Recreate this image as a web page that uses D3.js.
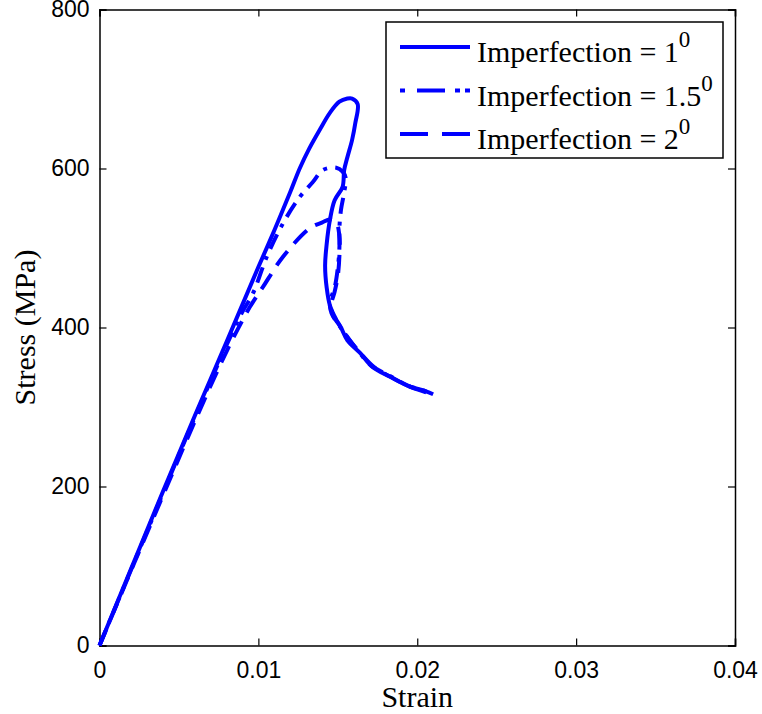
<!DOCTYPE html>
<html>
<head>
<meta charset="utf-8">
<script src="https://cdn.jsdelivr.net/npm/d3@7"></script>
<style>
  body { margin: 0; background: #fff; }
  .tick text { font-family: "Liberation Sans", Arial, sans-serif; font-size: 23px; }
</style>
</head>
<body>
<div id="chart"></div>
<script>
// stress-strain data
var strain1 = [0, 0.002, 0.004, 0.006, 0.008, 0.010, 0.011, 0.012, 0.0126, 0.0132, 0.0139, 0.0145, 0.0151, 0.0156, 0.0159, 0.01625, 0.0161, 0.0159, 0.0156, 0.0154, 0.0153, 0.0148, 0.0145, 0.0143, 0.0142, 0.0143, 0.0145, 0.0149, 0.0152, 0.0156, 0.0164, 0.0172, 0.0183, 0.0195, 0.0205, 0.0210];
var stress1 = [0, 97, 194, 289, 382, 476, 522, 570, 600, 625, 650, 670, 684, 688, 688, 681, 657, 636, 614, 598, 577, 560, 535, 505, 478, 450, 428, 410, 400, 384, 368, 350, 338, 326, 320, 316];

var strain15 = [0, 0.002, 0.004, 0.006, 0.008, 0.009, 0.00966, 0.01053, 0.01155, 0.0126, 0.01343, 0.01406, 0.0149, 0.0153, 0.0155, 0.0154, 0.0152, 0.0151, 0.0151, 0.0150, 0.0148, 0.0145, 0.0146, 0.0150, 0.0156, 0.0163, 0.0171, 0.0182, 0.0194, 0.0205, 0.0210];
var stress15 = [0, 96, 192, 287, 378, 420, 443, 489, 531, 564, 583, 598, 601, 596, 588, 570, 548, 525, 500, 475, 450, 432, 418, 405, 388, 370, 352, 340, 327, 320, 314];

var strain2 = [0, 0.002, 0.004, 0.006, 0.008, 0.00947, 0.01029, 0.01155, 0.01324, 0.0140, 0.0145, 0.0149, 0.0151, 0.0151, 0.0150, 0.0148, 0.0146, 0.0147, 0.0151, 0.0157, 0.0165, 0.0173, 0.0184, 0.0196, 0.0206, 0.0210];
var stress2 = [0, 95, 189, 282, 370, 426, 451, 489, 525, 532, 536, 532, 515, 490, 465, 445, 430, 415, 403, 385, 366, 350, 337, 325, 318, 312];

var seriesNames = ["Imperfection = 1", "Imperfection = 1.5", "Imperfection = 2"];
var xTicks = [0, 0.01, 0.02, 0.03, 0.04];
var yTicks = [0, 200, 400, 600, 800];

var margin = { top: 9.5, right: 27, bottom: 68.5, left: 99.5 };
var width = 762 - margin.left - margin.right;
var height = 714 - margin.top - margin.bottom;

var svg = d3.select("#chart").append("svg")
    .attr("width", 762)
    .attr("height", 714)
    .append("g")
    .attr("transform", "translate(" + margin.left + "," + margin.top + ")");

var x = d3.scaleLinear().domain([0, 0.04]).range([0, width]);
var y = d3.scaleLinear().domain([0, 800]).range([height, 0]);

var fmtX = function(d){ return d === 0 ? "0" : d3.format(".2f")(d); };

// axes (ticks pointing inward, MATLAB style, box on)
svg.append("g")
    .attr("transform", "translate(0," + height + ")")
    .call(d3.axisBottom(x).tickValues(xTicks).tickFormat(fmtX).tickSize(-7).tickPadding(16));
svg.append("g")
    .call(d3.axisLeft(y).tickValues(yTicks).tickSize(-7).tickPadding(10));
svg.append("g")
    .call(d3.axisTop(x).tickValues(xTicks).tickFormat("").tickSize(-7));
svg.append("g")
    .attr("transform", "translate(" + width + ",0)")
    .call(d3.axisRight(y).tickValues(yTicks).tickFormat("").tickSize(-7));

svg.selectAll(".domain").attr("stroke", "#000").attr("stroke-width", 1.5);
svg.selectAll(".tick line").attr("stroke", "#000").attr("stroke-width", 1.2);

var line = d3.line()
    .x(function(d){ return x(d[0]); })
    .y(function(d){ return y(d[1]); })
    .curve(d3.curveCatmullRom.alpha(0.5));

var series = [
    { data: d3.zip(strain1, stress1), dash: null },
    { data: d3.zip(strain15, stress15), dash: "16,8,4,8" },
    { data: d3.zip(strain2, stress2), dash: "18,10" }
];

svg.selectAll(".curve")
    .data(series)
    .enter()
    .append("path")
    .attr("class", "curve")
    .attr("d", function(d){ return line(d.data); })
    .attr("fill", "none")
    .attr("stroke", "#0000ff")
    .attr("stroke-width", 4)
    .attr("stroke-dasharray", function(d){ return d.dash; });

// axis labels
svg.append("text")
    .attr("x", width / 2)
    .attr("y", height + 61)
    .attr("text-anchor", "middle")
    .style("font-family", "'Liberation Serif', 'Times New Roman', serif")
    .style("font-size", "30px")
    .text("Strain");

svg.append("text")
    .attr("transform", "translate(" + (35 - margin.left) + "," + (327.5 - margin.top) + ") rotate(-90)")
    .attr("text-anchor", "middle")
    .style("font-family", "'Liberation Serif', 'Times New Roman', serif")
    .style("font-size", "30px")
    .text("Stress (MPa)");

// legend
var legend = svg.append("g")
    .attr("transform", "translate(" + (386 - margin.left) + "," + (22 - margin.top) + ")");

legend.append("rect")
    .attr("width", 337)
    .attr("height", 136)
    .attr("fill", "#fff")
    .attr("stroke", "#000")
    .attr("stroke-width", 1.5);

var items = legend.selectAll(".item")
    .data(series)
    .enter()
    .append("g")
    .attr("class", "item")
    .attr("transform", function(d, i){ return "translate(0," + (25 + i * 43.5) + ")"; });

items.append("line")
    .attr("x1", 14).attr("x2", 84)
    .attr("stroke", "#0000ff")
    .attr("stroke-width", 4)
    .attr("stroke-dasharray", function(d, i){ return i === 1 ? "5,12,28,10,5" : (i === 2 ? "28,14" : null); });

var lt = items.append("text")
    .attr("x", 91)
    .attr("y", 15)
    .style("font-family", "'Liberation Serif', 'Times New Roman', serif")
    .style("font-size", "30px");
lt.append("tspan").text(function(d, i){ return seriesNames[i]; });
lt.append("tspan").attr("dy", -15).style("font-size", "23px").text("0");

</script>
</body>
</html>
